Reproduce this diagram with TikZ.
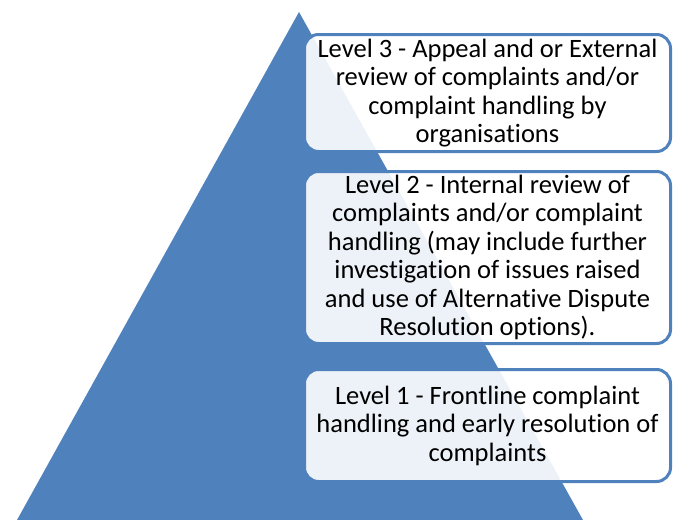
\documentclass[tikz,border=0pt]{standalone}
\usepackage{fontspec}
\setmainfont{Carlito}[Ligatures=NoCommon]
\definecolor{pyrblue}{RGB}{79,129,189}
\tikzset{levelbox/.style={draw=pyrblue, line width=3pt, fill=white, fill opacity=0.9, text opacity=1,
	rounded corners=14pt, align=center, minimum width=366pt, inner sep=0pt,
	font=\fontsize{26.5}{28.5}\selectfont}}

\begin{document}
\begin{tikzpicture}[x=1pt,y=-1pt]
	\useasboundingbox (0,0) rectangle (673,520);

	\coordinate (apex) at (299,12);
	\coordinate (baseL) at (17,520);
	\coordinate (baseR) at (583,520);

	\fill[pyrblue] (apex) -- (baseL) -- (baseR) -- cycle;

	\node[levelbox, minimum height=117pt] (lvl3) at (487.5,93) {Level 3 - Appeal and or External\\ review of complaints and/or\\ complaint handling by\\ organisations};
	\node[levelbox, minimum height=172pt] (lvl2) at (487.5,257.5) {Level 2 - Internal review of\\ complaints and/or complaint\\ handling (may include further\\ investigation of issues raised\\ and use of Alternative Dispute\\ Resolution options).};
	\node[levelbox, minimum height=112pt] (lvl1) at (487.5,425.5) {Level 1 - Frontline complaint\\ handling and early resolution of\\ complaints};
\end{tikzpicture}
\end{document}
